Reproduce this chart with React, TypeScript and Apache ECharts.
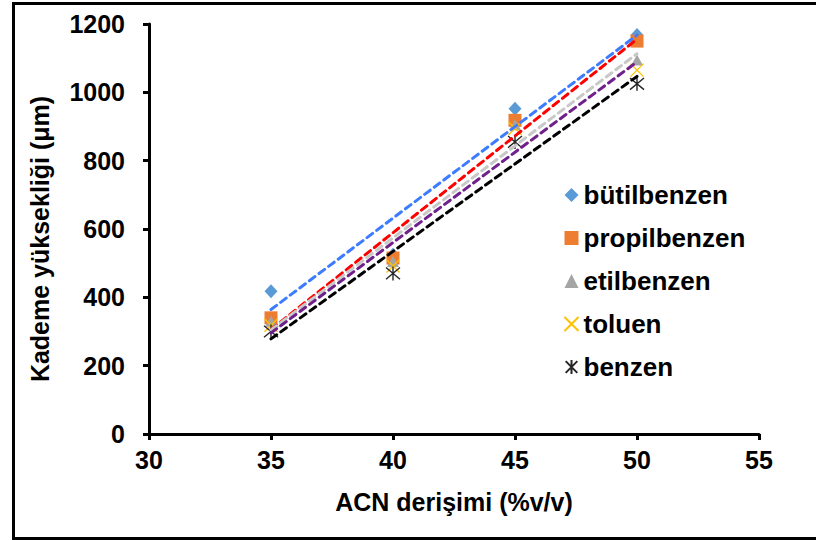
import React, { useEffect, useRef } from "react";
import * as echarts from "echarts";

const xValues = [35, 40, 45, 50];
const butilbenzen = [418, 525, 952, 1168];
const propilbenzen = [340, 515, 918, 1150];
const etilbenzen = [330, 505, 905, 1095];
const toluen = [318, 492, 895, 1065];
const benzen = [300, 470, 855, 1025];
const seriesNames = ["bütilbenzen", "propilbenzen", "etilbenzen", "toluen", "benzen"];
const xTicks = [30, 35, 40, 45, 50, 55];
const yTicks = [0, 200, 400, 600, 800, 1000, 1200];
const xTitle = "ACN derişimi (%v/v)";
const yTitle = "Kademe yüksekliği (μm)";

const FONT = "'Liberation Sans', Arial, sans-serif";

function fit(xs: number[], ys: number[]): number[][] {
  const n = xs.length;
  const mx = xs.reduce((a, b) => a + b, 0) / n;
  const my = ys.reduce((a, b) => a + b, 0) / n;
  let sxy = 0;
  let sxx = 0;
  for (let i = 0; i < n; i++) {
    sxy += (xs[i] - mx) * (ys[i] - my);
    sxx += (xs[i] - mx) * (xs[i] - mx);
  }
  const b = sxy / sxx;
  const a = my - b * mx;
  const x0 = Math.min(...xs);
  const x1 = Math.max(...xs);
  return [
    [x0, a + b * x0],
    [x1, a + b * x1],
  ];
}

export default function App() {
  const ref = useRef<HTMLDivElement>(null);
  useEffect(() => {
    if (!ref.current) return;
    const chart = echarts.init(ref.current, null, { renderer: "svg" });
    const all = [butilbenzen, propilbenzen, etilbenzen, toluen, benzen];
    const markerColors = ["#5b9bd5", "#ed7d31", "#a5a5a5", "#ffc000", "#262626"];
    const trendColors = ["#3d7cff", "#ff0000", "#c8c8c8", "#70208a", "#000000"];
    const symbols = [
      "diamond",
      "rect",
      "triangle",
      "path://M0 0 L10 10 M10 0 L0 10",
      "path://M0 0 L10 10 M10 0 L0 10 M5 -1 L5 11",
    ];
    const sizes: any[] = [[13, 14], 13, [12, 11], 13, 14];

    const scatter = all.map((vals, i) => {
      const stroked = i >= 3;
      return {
        name: seriesNames[i],
        type: "scatter",
        symbol: symbols[i],
        symbolSize: sizes[i],
        z: 2,
        data: xValues.map((x, j) => [x, vals[j]]),
        itemStyle: stroked
          ? { color: "none", borderColor: markerColors[i], borderWidth: 1.4, opacity: 1 }
          : { color: markerColors[i], opacity: 1 },
      };
    });
    const trends = all.map((vals, i) => ({
      name: seriesNames[i] + "-trend",
      type: "line",
      data: fit(xValues, vals),
      symbol: "none",
      z: 3,
      silent: true,
      lineStyle: { color: trendColors[i], width: 3, type: [7, 5], cap: "round" },
    }));

    chart.setOption({
      animation: false,
      backgroundColor: "#ffffff",
      grid: { left: 149, right: 57, top: 24, bottom: 106, containLabel: false },
      legend: {
        orient: "vertical",
        left: 557,
        top: 177,
        data: seriesNames,
        itemWidth: 14,
        itemHeight: 14,
        itemGap: 17,
        textStyle: { fontFamily: FONT, fontWeight: "bold", fontSize: 26, color: "#000", lineHeight: 26 },
      },
      xAxis: {
        type: "value",
        min: 30,
        max: 55,
        interval: 5,
        name: xTitle,
        nameLocation: "middle",
        nameGap: 55,
        nameTextStyle: { fontFamily: FONT, fontWeight: "bold", fontSize: 25, color: "#000" },
        axisLine: { show: true, lineStyle: { color: "#000", width: 3 } },
        axisTick: { show: true, length: 6, lineStyle: { color: "#000", width: 3 } },
        splitLine: { show: false },
        axisLabel: {
          margin: 13,
          fontFamily: FONT,
          fontWeight: "bold",
          fontSize: 25,
          color: "#000",
          formatter: (v: number) => (xTicks.includes(v) ? String(v) : ""),
        },
      },
      yAxis: {
        type: "value",
        min: 0,
        max: 1200,
        interval: 200,
        axisLine: { show: true, lineStyle: { color: "#000", width: 3 } },
        axisTick: { show: true, length: 6, lineStyle: { color: "#000", width: 3 } },
        splitLine: { show: false },
        axisLabel: {
          margin: 24,
          fontFamily: FONT,
          fontWeight: "bold",
          fontSize: 25,
          color: "#000",
          formatter: (v: number) => (yTicks.includes(v) ? String(v) : ""),
        },
      },
      graphic: [
        {
          type: "text",
          x: 40,
          y: 239,
          rotation: Math.PI / 2,
          style: {
            text: yTitle,
            font: "bold 25px " + FONT,
            fill: "#000",
            textAlign: "center",
            textVerticalAlign: "middle",
          },
          silent: true,
        },
        {
          type: "rect",
          left: 11,
          top: 1,
          shape: { x: 0, y: 0, width: 900, height: 535 },
          style: { fill: "none", stroke: "#000", lineWidth: 3 },
          silent: true,
          z: 100,
        },
      ],
      series: [...scatter, ...trends],
    });
    return () => chart.dispose();
  }, []);
  return (
    <div
      ref={ref}
      style={{ position: "fixed", left: 0, top: 0, width: 816, height: 540, background: "#fff" }}
    />
  );
}
